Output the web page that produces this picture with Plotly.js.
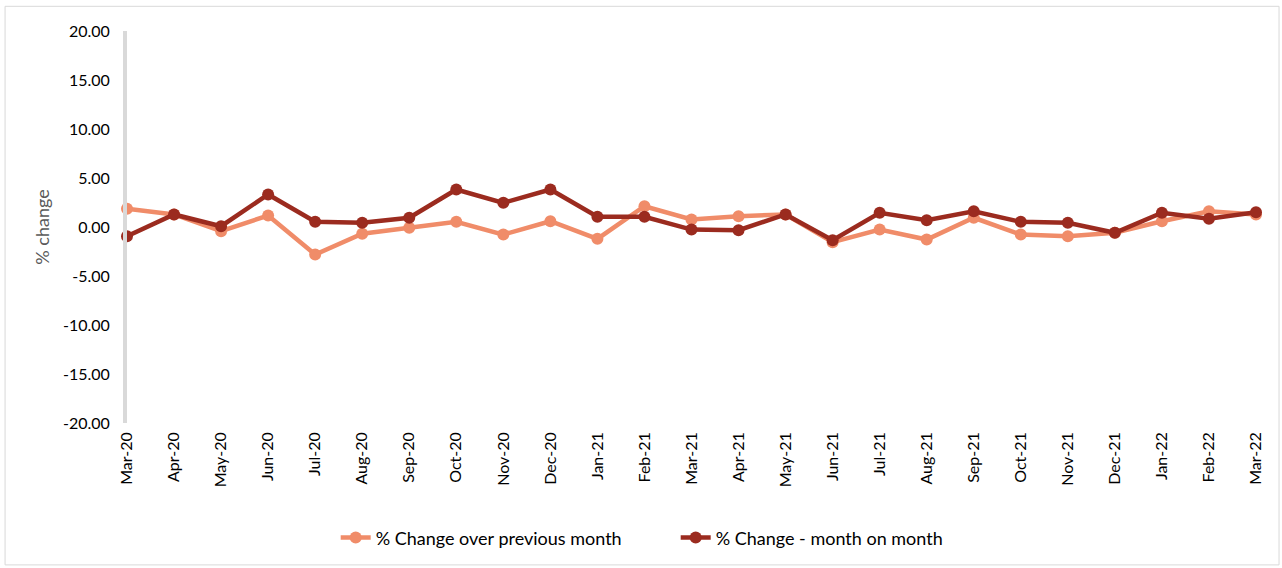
<!DOCTYPE html>
<html>
<head>
<meta charset="utf-8">
<script src="https://cdn.plot.ly/plotly-3.0.1.min.js"></script>
<style>
html,body{margin:0;padding:0;background:#fff;}
#chart{width:1282px;height:568px;}
</style>
</head>
<body>
<div id="chart"></div>
<script>
const months = ["Mar-20","Apr-20","May-20","Jun-20","Jul-20","Aug-20","Sep-20","Oct-20","Nov-20","Dec-20","Jan-21","Feb-21","Mar-21","Apr-21","May-21","Jun-21","Jul-21","Aug-21","Sep-21","Oct-21","Nov-21","Dec-21","Jan-22","Feb-22","Mar-22"];
const overPrevMonth = [1.87,1.28,-0.43,1.17,-2.81,-0.69,-0.08,0.53,-0.77,0.59,-1.21,2.12,0.77,1.10,1.28,-1.55,-0.26,-1.28,0.94,-0.77,-0.94,-0.59,0.59,1.61,1.28];
const monthOnMonth = [-0.94,1.28,0.08,3.32,0.53,0.43,0.94,3.83,2.47,3.83,1.04,1.04,-0.26,-0.33,1.28,-1.35,1.45,0.69,1.61,0.53,0.43,-0.59,1.45,0.84,1.51];
const yTicks = [-20,-15,-10,-5,0,5,10,15,20];
const yTickText = yTicks.map(v => v.toFixed(2));
const seriesNames = ["% Change over previous month","% Change - month on month"];

const font = "Lato, 'Open Sans', sans-serif";
const traces = [
  {x: months, y: overPrevMonth, name: seriesNames[0], type: "scatter", mode: "lines+markers",
   line: {color: "#F08C69", width: 4.5}, marker: {color: "#F08C69", size: 12}, cliponaxis: false},
  {x: months, y: monthOnMonth, name: seriesNames[1], type: "scatter", mode: "lines+markers",
   line: {color: "#9B2B1F", width: 4.5}, marker: {color: "#9B2B1F", size: 12}, cliponaxis: false}
];
const layout = {
  width: 1282, height: 568,
  margin: {l: 127, r: 26, t: 31, b: 145},
  paper_bgcolor: "#fff", plot_bgcolor: "#fff",
  font: {family: font, color: "#000", size: 16},
  showlegend: true,
  legend: {orientation: "h", x: 0.486, xanchor: "center", y: -0.293, yanchor: "middle",
           entrywidth: 295, entrywidthmode: "pixels",
           font: {family: font, size: 18, color: "#000"}, traceorder: "normal"},
  xaxis: {type: "category", range: [0, 24], showgrid: false, zeroline: false, showline: false,
          tickangle: -90, ticks: "", ticklabelstandoff: 5, tickfont: {family: font, size: 16, color: "#000"}, fixedrange: true},
  yaxis: {range: [-20, 20], tickvals: yTicks, ticktext: yTickText, showgrid: false, zeroline: false,
          showline: true, linecolor: "#d9d9d9", linewidth: 4, ticks: "", ticklen: 0, ticklabelstandoff: 10,
          tickfont: {family: font, size: 16, color: "#000"},
          title: {text: "% change", font: {family: font, size: 18, color: "#595959"}, standoff: 10}},
  shapes: [{type: "rect", xref: "paper", yref: "paper", x0: -0.108, x1: 1.0204, y0: -0.362, y1: 1.063,
            line: {color: "#d9d9d9", width: 1}, fillcolor: "rgba(0,0,0,0)", layer: "below"}]
};
Plotly.newPlot("chart", traces, layout, {displayModeBar: false, staticPlot: true});
</script>
</body>
</html>
